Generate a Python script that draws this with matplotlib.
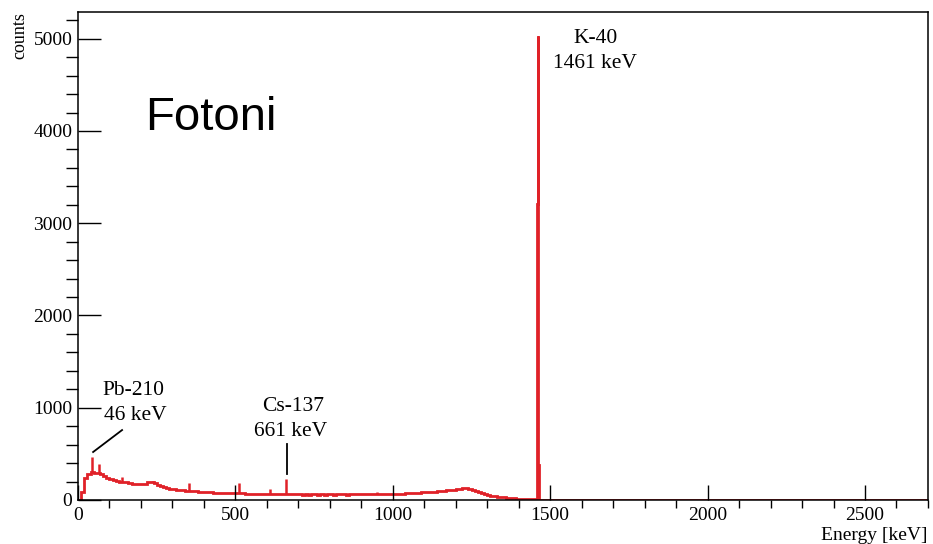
import numpy as np
import matplotlib
matplotlib.use('Agg')
from matplotlib import pyplot as plt

# continuum, 10 keV bins from 0 to 1450 keV
cont_counts = [0, 90, 240, 285, 300, 290, 295, 280, 265, 240,
               225, 215, 210, 200, 195, 190, 182, 178, 175, 170,
               172, 178, 192, 195, 180, 162, 150, 140, 130, 122,
               117, 112, 108, 104, 102, 98, 96, 93, 90, 88,
               86, 84, 85, 81, 80, 78, 79, 76, 75, 74,
               76, 73, 71, 70, 69, 67, 68, 66, 67, 65,
               66, 64, 65, 63, 62, 63, 64, 61, 60, 61,
               60, 59, 61, 58, 60, 62, 59, 60, 58, 61,
               60, 59, 62, 60, 61, 59, 60, 62, 61, 63,
               60, 62, 64, 61, 63, 62, 64, 63, 65, 64,
               66, 67, 69, 70, 72, 74, 76, 78, 80, 83,
               85, 88, 90, 92, 95, 98, 100, 104, 108, 112,
               118, 124, 130, 128, 120, 108, 96, 84, 74, 64,
               56, 48, 42, 36, 31, 27, 23, 20, 17, 15,
               13, 11, 10, 9, 8]
# K-40 region, 1 keV bins from 1450 to 1470 keV
k40_counts = [7, 7, 6, 7, 8, 9, 12, 20, 380, 3210,
              5030, 4510, 380, 40, 10, 6, 5, 5, 4, 4]
# tail, 30 keV bins from 1470 to 2700 keV
tail_counts = [5, 4, 4, 5, 3, 4, 4, 3, 4, 3,
               3, 4, 3, 3, 2, 3, 3, 2, 3, 3,
               2, 2, 3, 2, 2, 2, 3, 2, 2, 2,
               2, 1, 2, 2, 2, 1, 2, 2, 1, 2, 1]

# narrow lines on top of the continuum
peak_energy = [46, 67, 139, 239, 352, 511, 609, 661, 950]
peak_top = [465, 390, 245, 205, 180, 180, 120, 225, 85]

edges = np.concatenate([np.arange(0, 1450, 10),
                        np.arange(1450, 1470, 1),
                        np.arange(1470, 2701, 30)])
counts = np.array(cont_counts + k40_counts + tail_counts)

red = '#e02128'
plt.rcParams['font.family'] = ['Liberation Serif', 'DejaVu Serif']

fig = plt.figure(figsize=(9.33, 5.44), dpi=100)
ax = fig.add_axes([0.0836, 0.0809, 0.9110, 0.8971])

ax.stairs(counts, edges, color=red, linewidth=2.0)
idx = np.searchsorted(edges, peak_energy, side='right') - 1
ax.vlines(peak_energy, counts[idx], peak_top, color=red, linewidth=1.8)

ax.set_xlim(0, 2700)
ax.set_ylim(0, 5290)
ax.set_xticks(np.arange(0, 2701, 500))
ax.set_xticks(np.arange(0, 2701, 100), minor=True)
ax.set_yticks(np.arange(0, 5001, 1000))
ax.set_yticks(np.arange(0, 5290, 200), minor=True)
ax.tick_params(direction='in', labelsize=14, top=False, right=False)
ax.tick_params(axis='x', which='major', length=10.8, width=1, pad=5)
ax.tick_params(axis='x', which='minor', length=5.5, width=1)
ax.tick_params(axis='y', which='major', length=16.5, width=1, pad=4)
ax.tick_params(axis='y', which='minor', length=8.5, width=1)
for s in ax.spines.values():
    s.set_linewidth(1.1)

ax.text(1.0, -0.072, 'Energy [keV]', transform=ax.transAxes,
        ha='right', va='center', fontsize=14)
ax.text(-0.068, 1.0, 'counts', transform=ax.transAxes, rotation=90,
        ha='center', va='top', fontsize=13)

ax.text(422, 4140, 'Fotoni', family=['Liberation Sans', 'DejaVu Sans'],
        fontsize=34, ha='center', va='center')

ax.text(176, 1192, 'Pb-210', fontsize=15.5, ha='center', va='center')
ax.text(181, 921, '46 keV', fontsize=15.5, ha='center', va='center')
ax.plot([48, 140], [520, 758], color='black', linewidth=1.3)

ax.text(682, 1008, 'Cs-137', fontsize=15.5, ha='center', va='center')
ax.text(676, 737, '661 keV', fontsize=15.5, ha='center', va='center')
ax.plot([663, 663], [282, 607], color='black', linewidth=1.3)

ax.text(1643, 5005, 'K-40', fontsize=15.5, ha='center', va='center')
ax.text(1643, 4735, '1461 keV', fontsize=15.5, ha='center', va='center')

plt.savefig('out.png', dpi=100, facecolor='w')
